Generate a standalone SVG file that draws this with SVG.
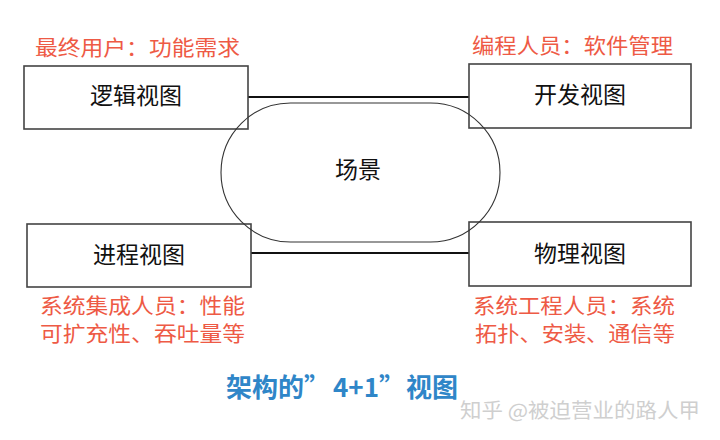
<svg xmlns="http://www.w3.org/2000/svg" width="720" height="440" viewBox="0 0 720 440">
  <style>
    .box { fill: none; stroke: #444; stroke-width: 1.6; }
    .conn { stroke: #111; stroke-width: 2; fill: none; }
    .scene { fill: none; stroke: #333; stroke-width: 1.1; }
    .lbl { font-family: "Noto Sans CJK SC", "Noto Sans", sans-serif; font-size: 23px; fill: #111; text-anchor: middle; }
    .red { font-family: "Noto Sans CJK SC", "Noto Sans", sans-serif; font-size: 21px; fill: #ee5a45; }
    .title { font-family: "Noto Sans CJK SC", "Noto Sans", sans-serif; font-size: 26px; font-weight: bold; fill: #2f86c8; }
    .wm { font-family: "Noto Sans CJK SC", "Noto Sans", sans-serif; font-size: 20px; fill: #cfcfcf; }
  </style>
  <rect width="720" height="440" fill="#ffffff"/>

  <g id="connectors">
    <line class="conn" x1="248" y1="97" x2="469" y2="97"/>
    <line class="conn" x1="251" y1="253" x2="469" y2="253"/>
  </g>

  <g id="logical">
    <rect class="box" x="24" y="66" width="224" height="63"/>
    <text class="lbl" x="136" y="104">逻辑视图</text>
    <text class="red" x="35" y="55" textLength="205" lengthAdjust="spacingAndGlyphs">最终用户：功能需求</text>
  </g>

  <g id="development">
    <rect class="box" x="469" y="64" width="222" height="64"/>
    <text class="lbl" x="580" y="103">开发视图</text>
    <text class="red" x="472" y="53" textLength="201" lengthAdjust="spacingAndGlyphs">编程人员：软件管理</text>
  </g>

  <g id="process">
    <rect class="box" x="27" y="224" width="224" height="63"/>
    <text class="lbl" x="139" y="263">进程视图</text>
    <text class="red" x="40" y="313" textLength="205" lengthAdjust="spacingAndGlyphs">系统集成人员：性能</text>
    <text class="red" x="40" y="341" textLength="205" lengthAdjust="spacingAndGlyphs">可扩充性、吞吐量等</text>
  </g>

  <g id="physical">
    <rect class="box" x="469" y="222" width="222" height="64"/>
    <text class="lbl" x="580" y="262">物理视图</text>
    <text class="red" x="473" y="313" textLength="202" lengthAdjust="spacingAndGlyphs">系统工程人员：系统</text>
    <text class="red" x="475" y="341" textLength="200" lengthAdjust="spacingAndGlyphs">拓扑、安装、通信等</text>
  </g>

  <g id="scene">
    <rect class="scene" x="221" y="103" width="279" height="139" rx="69.5" ry="69.5"/>
    <text class="lbl" x="358" y="178">场景</text>
  </g>

  <g id="title">
    <text class="title" y="397"><tspan x="226">架构的”</tspan><tspan x="333">4+1”</tspan><tspan x="406">视图</tspan></text>
  </g>

  <g id="watermark">
    <text class="wm" x="460" y="418" textLength="240" lengthAdjust="spacingAndGlyphs">知乎 @被迫营业的路人甲</text>
  </g>
</svg>
